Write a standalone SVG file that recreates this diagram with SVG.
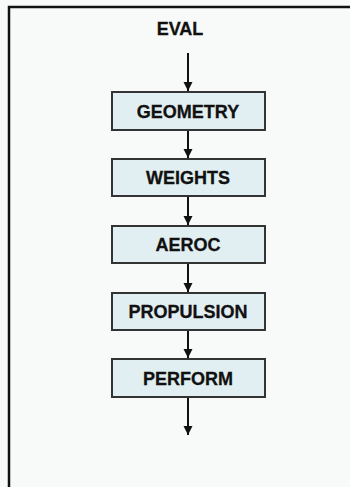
<svg xmlns="http://www.w3.org/2000/svg" width="350" height="487" viewBox="0 0 350 487">
<style>
.box{fill:#e2eff2;stroke:#333;stroke-width:2}
.lbl{font-family:"Liberation Sans",Arial,sans-serif;font-weight:bold;font-size:18px;fill:#111;stroke:#111;stroke-width:0.3;text-anchor:middle}
.con{stroke:#111;stroke-width:2;fill:none;marker-end:url(#ah)}
</style>
<defs>
<marker id="ah" markerWidth="10" markerHeight="10" refX="9" refY="5" orient="auto" markerUnits="userSpaceOnUse">
<path d="M0,0.5 L9,5 L0,9.5 Z" fill="#111"/>
</marker>
</defs>
<rect x="0" y="0" width="350" height="487" fill="#f8f9f9"/>
<path d="M9,487 V7 H350" fill="none" stroke="#111" stroke-width="2.5"/>
<g id="eval"><text class="lbl" x="180" y="35">EVAL</text></g>
<g id="geometry"><rect class="box" x="112" y="92" width="153" height="38"/><text class="lbl" x="188" y="118">GEOMETRY</text></g>
<g id="weights"><rect class="box" x="112" y="159" width="153" height="37"/><text class="lbl" x="188" y="184">WEIGHTS</text></g>
<g id="aeroc"><rect class="box" x="112" y="226" width="153" height="37"/><text class="lbl" x="188" y="251">AEROC</text></g>
<g id="propulsion"><rect class="box" x="112" y="293" width="153" height="37"/><text class="lbl" x="188" y="318">PROPULSION</text></g>
<g id="perform"><rect class="box" x="112" y="359" width="153" height="38"/><text class="lbl" x="188" y="385">PERFORM</text></g>
<g id="connectors">
<line class="con" x1="188" y1="53" x2="188" y2="91"/>
<line class="con" x1="188" y1="131" x2="188" y2="158"/>
<line class="con" x1="188" y1="197" x2="188" y2="225"/>
<line class="con" x1="188" y1="264" x2="188" y2="292"/>
<line class="con" x1="188" y1="331" x2="188" y2="358"/>
<line class="con" x1="188" y1="398" x2="188" y2="435"/>
</g>
</svg>
